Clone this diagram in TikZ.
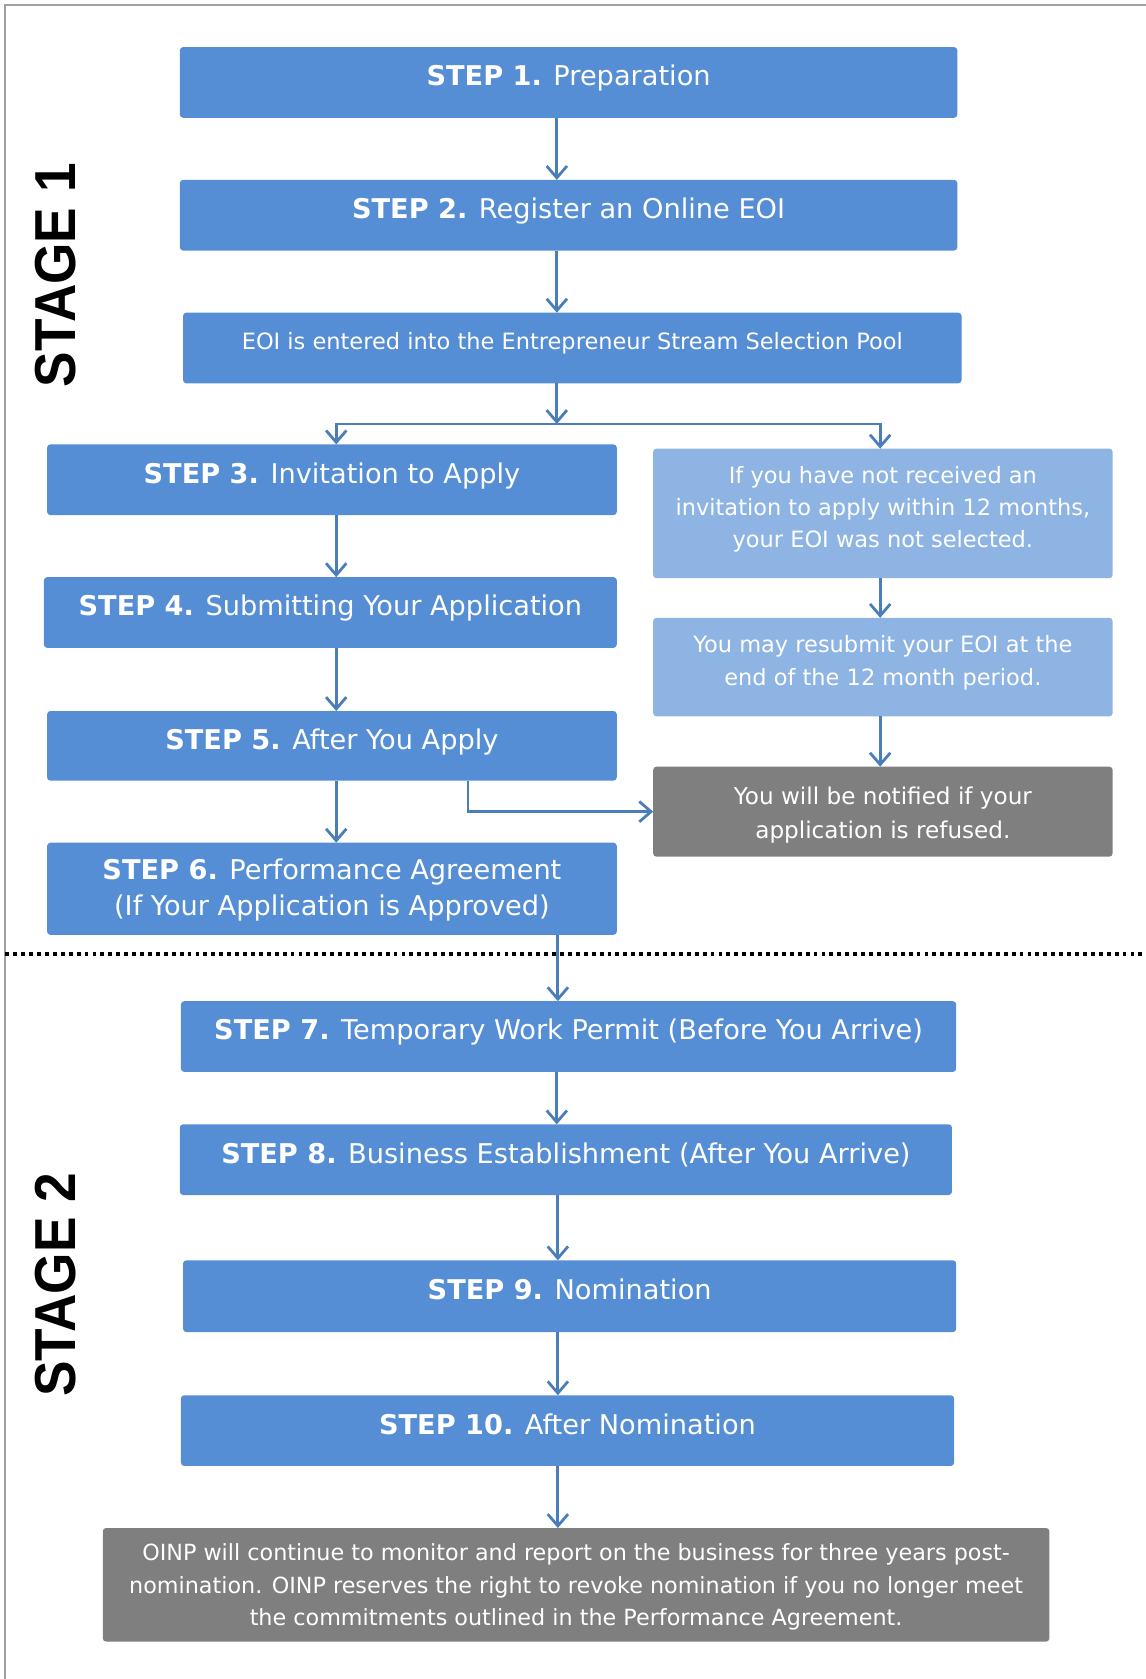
\documentclass[tikz,border=0pt]{standalone}
\usepackage{fontspec}
\setmainfont{DejaVu Sans}
\newfontfamily\stagefont[FakeStretch=0.92]{Liberation Sans}
\usetikzlibrary{arrows.meta,fit}
\definecolor{stepblue}{HTML}{558ED5}
\definecolor{lightblue}{HTML}{8EB4E3}
\definecolor{boxgray}{HTML}{7F7F7F}
\definecolor{arrowblue}{HTML}{4A7EBB}
\definecolor{framegray}{HTML}{A0A0A0}
\tikzset{
  boxbase/.style={rectangle, inner sep=0pt, outer sep=0pt, rounded corners=1.5pt},
  bluebox/.style={boxbase, fill=stepblue},
  lightbox/.style={boxbase, fill=lightblue},
  graybox/.style={boxbase, fill=boxgray},
  steptext/.style={text=white, inner sep=0pt, align=center, font=\fontsize{12.7}{17}\selectfont},
  oneline/.style={text height=0.76em, text depth=0.24em},
  smalltext/.style={text=white, inner sep=0pt, align=center, font=\fontsize{10.5}{15}\selectfont},
  stagelabel/.style={inner sep=0pt, rotate=90, font=\fontsize{27}{30}\stagefont\bfseries},
  arr/.style={draw=arrowblue, line width=1.3pt, -{Straight Barb[length=5.5pt,width=9.5pt,line width=1.3pt]}},
}
\begin{document}
\begin{tikzpicture}[x=0.5pt,y=-0.5pt]
\useasboundingbox (0,0) rectangle (1070,1568);
% frame
\draw[framegray, line width=1pt] (5,1568) -- (5,5) -- (1070,5);
% column coordinates
\coordinate (xm) at (520,0);
\coordinate (xn) at (521,0);
\coordinate (xl) at (314,0);
\coordinate (xr) at (822,0);
\coordinate (xb) at (437,0);
\coordinate (split) at (520,396);
% boxes
\node[bluebox, fit={(168,44) (894,110)}] (s1) {};
\node[bluebox, fit={(168,168) (894,234)}] (s2) {};
\node[bluebox, fit={(171,292) (898,358)}] (pool) {};
\node[bluebox, fit={(44,415) (576,481)}] (s3) {};
\node[lightbox, fit={(610,419) (1039,540)}] (r1) {};
\node[bluebox, fit={(41,539) (576,605)}] (s4) {};
\node[lightbox, fit={(610,577) (1039,669)}] (r2) {};
\node[bluebox, fit={(44,664) (576,729)}] (s5) {};
\node[graybox, fit={(610,716) (1039,800)}] (g1) {};
\node[bluebox, fit={(44,787) (576,873)}] (s6) {};
\node[bluebox, fit={(169,935) (893,1001)}] (s7) {};
\node[bluebox, fit={(168,1050) (889,1116)}] (s8) {};
\node[bluebox, fit={(171,1177) (893,1244)}] (s9) {};
\node[bluebox, fit={(169,1303) (891,1369)}] (s10) {};
\node[graybox, fit={(96,1427) (980,1533)}] (g2) {};
% texts
\node[steptext, oneline] (t1) at ([yshift=1pt]s1.center) {\textbf{STEP 1.} Preparation};
\node[steptext, oneline] (t2) at ([yshift=1pt]s2.center) {\textbf{STEP 2.} Register an Online EOI};
\node[smalltext, oneline] (tp) at ([yshift=2pt]pool.center) {EOI is entered into the Entrepreneur Stream Selection Pool};
\node[steptext, oneline] (t3) at ([yshift=1pt]s3.center) {\textbf{STEP 3.} Invitation to Apply};
\node[smalltext] (tr1) at ([yshift=2pt]r1.center) {If you have not received an\\invitation to apply within 12 months,\\your EOI was not selected.};
\node[steptext, oneline] (t4) at ([yshift=1pt]s4.center) {\textbf{STEP 4.} Submitting Your Application};
\node[smalltext] (tr2) at ([yshift=2pt]r2.center) {You may resubmit your EOI at the\\end of the 12 month period.};
\node[steptext, oneline] (t5) at ([yshift=1pt]s5.center) {\textbf{STEP 5.} After You Apply};
\node[smalltext, font=\fontsize{10.8}{16}\selectfont] (tg1) at ([yshift=-1.5pt]g1.center) {You will be notified if your\\application is refused.};
\node[steptext] (t6) at ([yshift=-0.5pt]s6.center) {\textbf{STEP 6.} Performance Agreement\\(If Your Application is Approved)};
\node[steptext, oneline] (t7) at ([yshift=1pt]s7.center) {\textbf{STEP 7.} Temporary Work Permit (Before You Arrive)};
\node[steptext, oneline] (t8) at ([yshift=1pt]s8.center) {\textbf{STEP 8.} Business Establishment (After You Arrive)};
\node[steptext, oneline] (t9) at ([yshift=1pt]s9.center) {\textbf{STEP 9.} Nomination};
\node[steptext, oneline] (t10) at ([yshift=1pt]s10.center) {\textbf{STEP 10.} After Nomination};
\node[smalltext, font=\fontsize{10.4}{15}\selectfont] (tg2) at ([yshift=-1pt]g2.center) {OINP will continue to monitor and report on the business for three years post-\\nomination. OINP reserves the right to revoke nomination if you no longer meet\\the commitments outlined in the Performance Agreement.};
% stage labels
\node[stagelabel] (st1) at (52,257) {STAGE 1};
\node[stagelabel] (st2) at (52,1200) {STAGE 2};
% dotted separator
\draw[black, line width=1.8pt, dash pattern=on 1.8pt off 1.9pt] (5,891) -- (1070,891);
% connectors
\draw[arr] (s1.south -| xm) -- (s2.north -| xm);
\draw[arr] (s2.south -| xm) -- (pool.north -| xm);
\draw[arr] (pool.south -| xm) -- (split);
\draw[arr] (split) -| (xl |- s3.north);
\draw[arr] (split) -| (xr |- r1.north);
\draw[arr] (s3.south -| xl) -- (s4.north -| xl);
\draw[arr] (s4.south -| xl) -- (s5.north -| xl);
\draw[arr] (s5.south -| xl) -- (s6.north -| xl);
\draw[arr] (r1.south -| xr) -- (r2.north -| xr);
\draw[arr] (r2.south -| xr) -- (g1.north -| xr);
\draw[arr] (s5.south -| xb) |- (g1.west);
\draw[arr] (s6.south -| xn) -- (s7.north -| xn);
\draw[arr] (s7.south -| xm) -- (s8.north -| xm);
\draw[arr] (s8.south -| xn) -- (s9.north -| xn);
\draw[arr] (s9.south -| xn) -- (s10.north -| xn);
\draw[arr] (s10.south -| xn) -- (g2.north -| xn);
\end{tikzpicture}
\end{document}
